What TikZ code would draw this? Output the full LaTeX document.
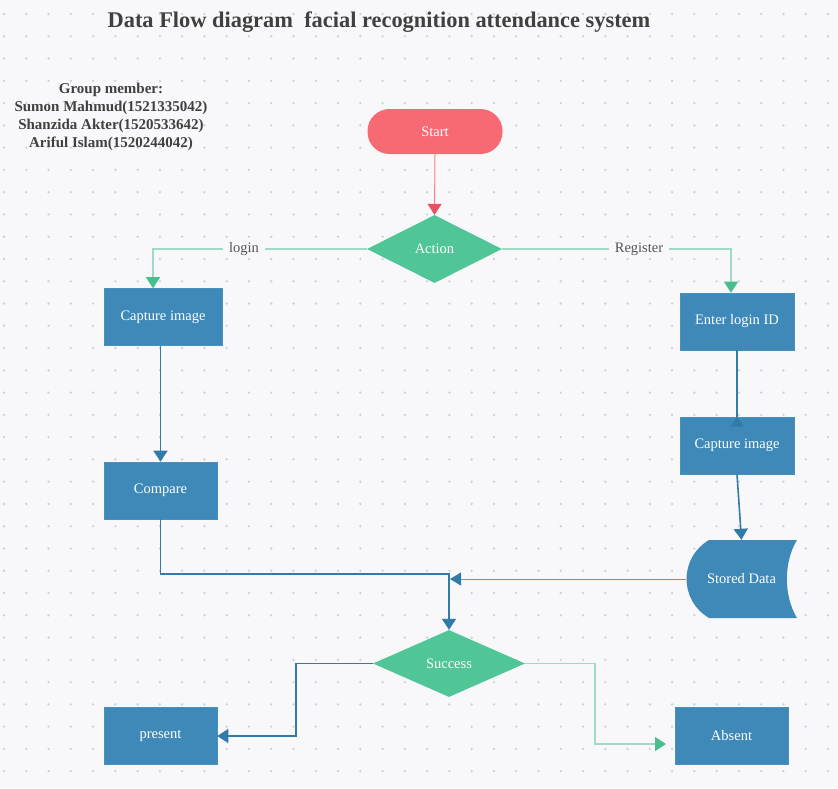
\documentclass[tikz,border=0pt]{standalone}
\usepackage{fontspec}
\setmainfont{Liberation Serif}
\usetikzlibrary{arrows.meta,shapes.geometric,calc}
\definecolor{bgc}{RGB}{248,248,251}
\definecolor{dotc}{RGB}{208,208,216}
\definecolor{boxblue}{RGB}{62,137,184}
\definecolor{boxedge}{RGB}{72,145,190}
\definecolor{dgreen}{RGB}{80,197,151}
\definecolor{startred}{RGB}{247,105,115}
\definecolor{lnblue}{RGB}{50,123,168}
\definecolor{lnblue2}{RGB}{100,152,192}
\definecolor{lngreen}{RGB}{160,218,196}
\definecolor{tipgreen}{RGB}{72,190,140}
\definecolor{lnred}{RGB}{244,128,138}
\definecolor{tipred}{RGB}{232,82,96}
\definecolor{titlec}{RGB}{64,64,64}
\definecolor{labc}{RGB}{85,85,85}
\begin{document}
\begin{tikzpicture}[x=1pt,y=-1pt,
  txt/.style={font=\fontsize{14.5}{17}\selectfont},
  box/.style={rectangle, fill=boxblue, draw=boxedge, line width=0.6pt, minimum width=#1, minimum height=57pt, inner sep=0pt, text=white, txt},
  box/.default=114pt,
  dec/.style={diamond, fill=dgreen, draw=none, inner sep=0pt, text=white, txt},
  lbl/.style={fill=bgc, text=labc, txt, inner xsep=6pt, inner ysep=2pt},
  bconn/.style={draw=lnblue, line width=1.6pt, -{Triangle[width=14pt,length=11pt]}},
  thinb/.style={draw=lnblue2, line width=1pt, -{Triangle[width=13pt,length=11pt,color=lnblue]}},
  gconn/.style={draw=lngreen, line width=1.2pt, -{Triangle[width=14pt,length=11pt,color=tipgreen]}},
  rconn/.style={draw=lnred, line width=1pt, -{Triangle[width=14pt,length=11pt,color=tipred]}}]
\useasboundingbox (0,0) rectangle (838,788);
\fill[bgc] (0,0) rectangle (838,788);
\foreach \i in {0,...,37}{
  \foreach \j in {0,...,35}{
    \fill[dotc] ({4+22.27*\i},{14+22.27*\j}) circle (1.3pt);
  }
}
% title and members
\node[anchor=base, font=\bfseries\fontsize{22.4}{26}\selectfont, text=titlec, inner sep=0pt] (title) at (379,27) {Data Flow diagram\ \ facial recognition attendance system};
\node[align=center, font=\bfseries\fontsize{15}{18}\selectfont, text=titlec, inner sep=0pt] (members) at (111,116.5) {Group member:\\Sumon Mahmud(1521335042)\\Shanzida Akter(1520533642)\\Ariful Islam(1520244042)};
% nodes
\node[rectangle, rounded corners=22pt, fill=startred, minimum width=135pt, minimum height=45pt, inner sep=0pt, text=white, txt] (start) at (435,131.5) {Start};
\node[dec, minimum width=135pt, minimum height=68pt] (action) at (434.5,249) {Action};
\node[box=118pt] (capL) at (163,317) {Capture image};
\node[box=113pt] (compare) at (160.5,490.5) {Compare};
\node[box] (enter) at (737,321.5) {Enter login ID};
\node[box] (captR) at (737,445.5) {Capture image};
\fill[boxblue] (709,540) -- (797,540) .. controls (783.5,562) and (783.5,596) .. (797,618) -- (709,618) .. controls (679,600) and (679,558) .. (709,540) -- cycle;
\node[inner sep=0pt, minimum width=111pt, minimum height=78pt, text=white, txt] (stored) at (741.5,579) {Stored Data};
\node[dec, minimum width=152pt, minimum height=67pt] (success) at (449,663.5) {Success};
\node[box=113pt] (present) at (160.5,736) {present};
\node[box=113pt] (absent) at (731.5,736) {Absent};
% helper coordinates
\coordinate (lturn) at (153,249);
\coordinate (rturn) at (731,249);
\coordinate (cjoin) at (449,574);
\coordinate (jn) at (450,579);
\coordinate (pturn) at (296,663.5);
\coordinate (aturn) at (595,663.5);
\coordinate (ain) at (666,744);
% connectors
\draw[rconn] (start.south) -- (action.north);
\draw[gconn] (action.west) -- (lturn) -- (lturn |- capL.north);
\draw[gconn] (action.east) -- (rturn) -- (rturn |- enter.north);
\node[lbl] (loginlbl) at (244,249) {login};
\node[lbl] (reglbl) at (639,249) {Register};
\draw[bconn] (capL.south -| compare.north) -- (compare.north);
\draw[bconn] (compare.south) |- (cjoin) -- (success.north);
\draw[draw=lnblue, line width=1.6pt] (enter.south) -- (captR.north);
\fill[lnblue] (captR.north) -- ++(6.5,10) -- ++(-13,0) -- cycle;
\draw[bconn] (captR.south) -- (stored.north);
\draw[thinb] (stored.west) -- (jn);
\draw[bconn, line width=1.8pt] (success.west) -- (pturn) |- (present.east);
\draw[gconn] (success.east) -- (aturn) |- (ain);
\end{tikzpicture}
\end{document}
